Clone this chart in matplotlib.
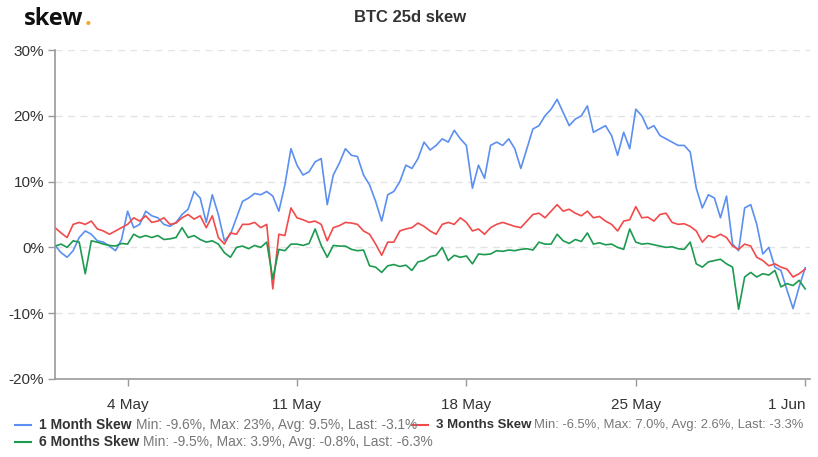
import numpy as np
import pandas as pd
import matplotlib
matplotlib.use("Agg")
import matplotlib.pyplot as plt
import matplotlib.dates as mdates

# ---- data (6-hourly readings, % skew), starting 1 May 00:00 ----
start = "2020-05-01 00:00"
one_month = [
    0.3, -0.8, -1.5, -0.5,   1.5, 2.5, 2.0, 1.0,   0.8, 0.2, -0.5, 1.2,
    5.5, 3.0, 3.5, 5.5,   4.8, 4.5, 3.5, 3.2,   3.8, 5.0, 5.8, 8.5,
    7.5, 3.8, 8.0, 5.0,   1.0, 2.0, 4.5, 7.0,   7.5, 8.2, 8.0, 8.5,
    7.8, 5.5, 9.5, 15.0,  12.5, 11.0, 11.5, 13.0,  13.5, 6.5, 11.0, 12.8,
    15.0, 14.0, 13.8, 11.0,  9.5, 7.0, 4.0, 8.0,  8.5, 10.0, 12.5, 12.0,
    13.5, 16.0, 14.8, 15.5,  16.5, 16.0, 17.8, 16.5,  15.5, 9.0, 12.5, 10.5,
    15.5, 16.0, 15.5, 16.5,  15.0, 12.0, 15.0, 18.0,  18.5, 20.0, 21.0, 22.5,
    20.5, 18.5, 19.5, 20.0,  21.5, 17.5, 18.0, 18.5,  17.0, 14.0, 17.5, 15.0,
    21.0, 20.0, 18.0, 18.5,  17.0, 16.5, 16.0, 15.5,  15.5, 14.5, 9.0, 6.0,
    8.0, 7.5, 4.5, 7.8,   0.5, -0.5, 6.0, 6.5,   3.5, -1.0, 0.0, -3.0,
    -3.5, -6.5, -9.3, -6.0,  -3.1,
]
three_months = [
    3.0, 2.2, 1.5, 3.5,   3.8, 3.5, 4.0, 2.8,   2.5, 2.0, 2.5, 3.0,
    3.5, 4.5, 4.0, 4.8,   3.8, 4.0, 4.5, 3.5,   3.7, 4.5, 5.0, 4.3,
    4.8, 3.0, 4.8, 1.5,   0.5, 2.2, 2.0, 3.5,   3.5, 3.8, 3.0, 3.5,
    -6.3, 2.0, 1.8, 6.0,  4.5, 4.2, 3.8, 4.0,  3.5, 1.0, 3.0, 3.3,
    3.8, 3.7, 3.5, 2.5,   2.0, 0.5, -1.2, 0.8,  0.8, 2.5, 2.8, 3.0,
    3.7, 3.2, 2.5, 2.0,   3.5, 3.8, 3.5, 4.5,   3.8, 2.5, 2.8, 2.0,
    3.0, 3.5, 3.8, 3.5,   3.2, 3.0, 4.0, 5.0,   5.2, 4.5, 5.5, 6.5,
    5.5, 5.8, 5.2, 4.8,   5.5, 4.5, 4.7, 4.0,   3.5, 2.5, 4.0, 4.2,
    6.2, 4.5, 4.6, 4.0,   5.0, 5.2, 3.8, 3.5,   3.6, 3.2, 2.5, 0.8,
    1.8, 1.5, 2.0, 1.5,   0.2, -0.3, 0.5, 0.2,  -1.5, -2.0, -2.8, -2.5,
    -3.0, -3.3, -4.5, -4.0,  -3.3,
]
six_months = [
    0.2, 0.5, 0.0, 1.0,   0.8, -4.0, 1.0, 0.8,   0.5, 0.3, 0.2, 0.6,
    0.5, 2.0, 1.5, 1.8,   1.5, 1.8, 1.2, 1.3,   1.5, 3.0, 1.5, 1.8,
    1.2, 0.8, 1.0, 0.5,   -0.8, -1.5, 0.0, 0.2,  -0.2, 0.3, 0.0, 0.8,
    -4.8, -0.3, -0.5, 0.5,  0.5, 0.3, 0.6, 2.8,  0.3, -1.5, 0.3, 0.2,
    0.2, -0.3, -0.5, -0.4,  -2.8, -3.0, -3.8, -2.8,  -2.6, -2.9, -2.7, -3.5,
    -2.2, -2.0, -1.4, -1.2,  0.0, -2.0, -1.2, -1.5,  -1.3, -2.5, -1.0, -1.1,
    -1.0, -0.5, -0.6, -0.4,  -0.5, -0.3, -0.2, -0.4,  0.8, 0.5, 0.5, 2.0,
    1.0, 0.6, 1.2, 0.9,   2.2, 0.5, 0.7, 0.4,   0.5, 0.0, -0.3, 2.8,
    0.8, 0.5, 0.6, 0.4,   0.2, 0.0, 0.1, -0.2,  -0.3, 0.8, -2.5, -3.0,
    -2.2, -2.0, -1.8, -2.5,  -3.0, -9.4, -4.5, -3.8,  -4.5, -4.0, -4.2, -3.5,
    -6.0, -5.5, -5.8, -5.0,  -6.3,
]
series_names = ["1 Month Skew", "3 Months Skew", "6 Months Skew"]
series_stats = ["Min: -9.6%, Max: 23%, Avg: 9.5%, Last: -3.1%",
                "Min: -6.5%, Max: 7.0%, Avg: 2.6%, Last: -3.3%",
                "Min: -9.5%, Max: 3.9%, Avg: -0.8%, Last: -6.3%"]
y_ticks = [-20, -10, 0, 10, 20, 30]
x_tick_dates = ["2020-05-04", "2020-05-11", "2020-05-18", "2020-05-25", "2020-06-01"]
x_tick_labels = ["4 May", "11 May", "18 May", "25 May", "1 Jun"]

colors = ["#5b8ff0", "#f24a4a", "#1c9a50"]

times = pd.date_range(start, periods=len(one_month), freq="6h")

plt.rcParams["font.family"] = ["Liberation Sans", "DejaVu Sans"]
fig = plt.figure(figsize=(8.18, 4.57), dpi=100)
ax = fig.add_axes([55 / 818, 78 / 457, 755 / 818, 329 / 457])

for vals, c in zip([one_month, three_months, six_months], colors):
    ax.plot(times, vals, color=c, lw=1.2, solid_joinstyle="round")

ax.set_ylim(-20, 30)
ax.set_yticks(y_ticks)
ax.set_yticklabels([f"{v}%" for v in y_ticks])
ax.set_xlim(pd.Timestamp("2020-05-01"), pd.Timestamp("2020-05-01") + pd.Timedelta(days=31.2))
ax.set_xticks(pd.to_datetime(x_tick_dates))
ax.set_xticklabels(x_tick_labels)
ax.get_xticklabels()[-1].set_horizontalalignment("right")

for v in y_ticks[1:]:
    ax.axhline(v, color="#e3e3e3", lw=1, ls=(0, (5, 4)), zorder=0)

for s in ["top", "right"]:
    ax.spines[s].set_visible(False)
for s in ["left", "bottom"]:
    ax.spines[s].set_color("#999999")
    ax.spines[s].set_linewidth(1.2)
ax.tick_params(axis="both", colors="#999999", length=5, width=1, labelsize=11,
               labelcolor="#333333")
ax.tick_params(axis="x", pad=9)
ax.tick_params(axis="y", pad=3)

# title and logo
fig.text(410 / 818, 1 - 17 / 457, "BTC 25d skew", ha="center", va="center",
         fontsize=12, fontweight="bold", color="#333333")
logo = fig.text(24 / 818, 1 - 25 / 457, "skew", ha="left", va="baseline",
                fontsize=17, fontweight="bold", color="#111111", family="Open Sans")
fig.canvas.draw()
r = fig.canvas.get_renderer()
bb = logo.get_window_extent(r)
fig.text((bb.x1 + 1) / 818, 1 - 25 / 457, ".", ha="left", va="baseline",
         fontsize=17, fontweight="bold", color="#f5a623", family="Open Sans")

# legend
def legend_item(x0, y, color, name, stats, size=10, gap=4):
    fig.add_artist(plt.Line2D([x0 / 818, (x0 + 16) / 818], [1 - y / 457, 1 - y / 457],
                              color=color, lw=1.5, transform=fig.transFigure))
    t = fig.text((x0 + 24) / 818, 1 - y / 457, name, ha="left", va="center",
                 fontsize=size, fontweight="bold", color="#333333")
    fig.canvas.draw()
    b = t.get_window_extent(fig.canvas.get_renderer())
    t2 = fig.text((b.x1 + gap) / 818, 1 - y / 457, stats, ha="left", va="center",
                  fontsize=size - 0.1, color="#777777")
    return t2

legend_item(15, 425, colors[0], series_names[0], series_stats[0])
legend_item(412, 425, colors[1], series_names[1], series_stats[1], size=9.5, gap=3)
legend_item(15, 442, colors[2], series_names[2], series_stats[2])

fig.savefig("out.png", dpi=100)
